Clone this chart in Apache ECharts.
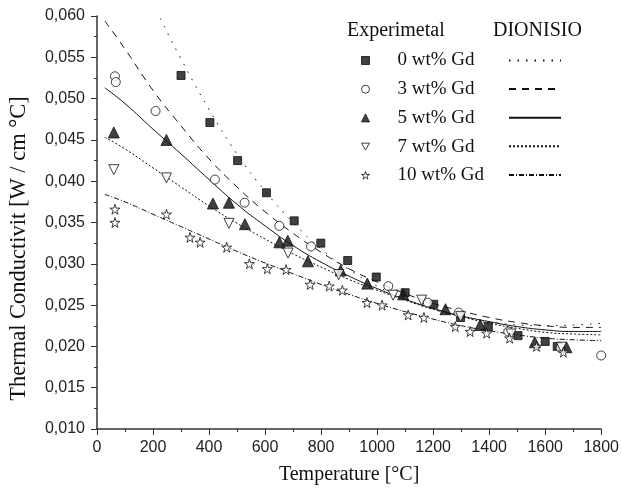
<!DOCTYPE html>
<html><head><meta charset="utf-8">
<script src="https://cdn.jsdelivr.net/npm/echarts@6/dist/echarts.min.js"></script>
<style>html,body{margin:0;padding:0;background:#fff}#c{width:622px;height:490px}</style>
</head><body><div id="c"></div>
<script>
// Experimental data [T, k]
const gd0 = [[300,0.0528],[403,0.0471],[502,0.0425],[605,0.0386],[704,0.0352],[799,0.0325],[895,0.0304],[997,0.0284],[1100,0.0265],[1202,0.0251],[1298,0.0235],[1397,0.0224],[1503,0.0213],[1600,0.0206],[1643,0.0200]];
const gd3 = [[64,0.0527],[67,0.0520],[209,0.0485],[421,0.0402],[527,0.0374],[651,0.0346],[764,0.0321],[1040,0.0273],[1181,0.0253],[1291,0.0241],[1468,0.0218],[1655,0.0198],[1800,0.0189]];
const gd5 = [[60,0.0459],[248,0.0450],[414,0.0373],[471,0.0374],[528,0.0348],[651,0.0326],[681,0.0328],[753,0.0303],[870,0.0292],[965,0.0276],[1093,0.0263],[1244,0.0245],[1368,0.0226],[1563,0.0205],[1676,0.0199]];
const gd7 = [[60,0.0414],[248,0.0404],[471,0.0349],[682,0.0313],[863,0.0287],[1057,0.0262],[1159,0.0256],[1298,0.0236],[1478,0.0215],[1658,0.0199]];
const gd10 = [[64,0.0366],[64,0.0350],[248,0.0360],[332,0.0332],[368,0.0326],[463,0.0320],[544,0.0300],[608,0.0294],[675,0.0293],[761,0.0275],[829,0.0273],[876,0.0268],[964,0.0253],[1018,0.0250],[1111,0.0238],[1167,0.0235],[1279,0.0224],[1332,0.0218],[1391,0.0216],[1473,0.0210],[1569,0.0200],[1665,0.0193]];
// DIONISIO model curves [T, k]
const fit0 = [[226,0.0597],[300,0.0548],[400,0.0487],[500,0.0433],[600,0.0388],[700,0.0350],[800,0.0318],[900,0.0293],[1000,0.0273],[1100,0.0257],[1200,0.0245],[1300,0.0236],[1400,0.0230],[1500,0.0226],[1600,0.0225],[1700,0.0226],[1800,0.0228]];
const fit3 = [[28,0.0594],[100,0.0560],[200,0.0510],[300,0.0467],[400,0.0427],[500,0.0393],[600,0.0363],[700,0.0337],[800,0.0314],[900,0.0294],[1000,0.0278],[1100,0.0264],[1200,0.0252],[1300,0.0243],[1400,0.0235],[1500,0.0229],[1600,0.0225],[1700,0.0223],[1800,0.0223]];
const fit5 = [[28,0.0513],[100,0.0494],[200,0.0463],[300,0.0433],[400,0.0402],[500,0.0372],[600,0.0346],[700,0.0322],[800,0.0302],[900,0.0285],[1000,0.0270],[1100,0.0257],[1200,0.0246],[1300,0.0237],[1400,0.0230],[1500,0.0224],[1600,0.0220],[1700,0.0218],[1800,0.0218]];
const fit7 = [[28,0.0453],[100,0.0439],[200,0.0416],[300,0.0393],[400,0.0370],[500,0.0349],[600,0.0330],[700,0.0312],[800,0.0296],[900,0.0281],[1000,0.0268],[1100,0.0256],[1200,0.0245],[1300,0.0236],[1400,0.0228],[1500,0.0222],[1600,0.0217],[1700,0.0215],[1800,0.0214]];
const fit10 = [[28,0.0384],[100,0.0375],[200,0.0360],[300,0.0345],[400,0.0330],[500,0.0315],[600,0.0301],[700,0.0288],[800,0.0275],[900,0.0263],[1000,0.0252],[1100,0.0242],[1200,0.0233],[1300,0.0225],[1400,0.0219],[1500,0.0214],[1600,0.0210],[1700,0.0208],[1800,0.0207]];
const names = ['0 wt% Gd','3 wt% Gd','5 wt% Gd','7 wt% Gd','10 wt% Gd'];
const fitNames = ['D0','D3','D5','D7','D10'];

const star = 'path://M50,0 L61,35 L98,35 L68,57 L79,91 L50,70 L21,91 L32,57 L2,35 L39,35 Z';
const down = 'path://M0,0 L100,0 L50,87 Z';
const serif = 'Liberation Serif';
const sans = 'Liberation Sans';
const fill = {color:'#111', borderColor:'#111', borderWidth:1};
const open = {color:'#fff', borderColor:'#111', borderWidth:1};
const scat = [
  {d:gd0, sym:'rect', size:8, st:fill},
  {d:gd3, sym:'circle', size:9, st:open},
  {d:gd5, sym:'triangle', size:11, st:fill},
  {d:gd7, sym:down, size:10, st:open},
  {d:gd10, sym:star, size:10, st:open}
];
const fits = [
  {d:fit0, type:[1.5,7]},
  {d:fit3, type:[7,6]},
  {d:fit5, type:'solid'},
  {d:fit7, type:[2,2]},
  {d:fit10, type:[5,2,1,2]}
];
const series = [];
fits.forEach((f,i)=>series.push({name:fitNames[i], type:'line', data:f.d, smooth:true, symbol:'none',
  itemStyle:{color:'#111'}, lineStyle:{color:'#111', width:1, type:f.type}, z:2}));
scat.forEach((s,i)=>series.push({name:names[i], type:'scatter', data:s.d, symbol:s.sym, symbolSize:s.size,
  itemStyle:s.st, z:3}));

const chart = echarts.init(document.getElementById('c'), null, {renderer:'canvas'});
chart.setOption({
  animation:false,
  backgroundColor:'#fff',
  grid:{left:94, right:19, top:16, bottom:60},
  legend:[
    {data:names.map((n,i)=>({name:n, icon:scat[i].sym, itemStyle:scat[i].st})), orient:'vertical', left:356, top:46,
     itemWidth:8, itemHeight:8, itemGap:9.7, textStyle:{fontFamily:serif, fontSize:19, color:'#111', padding:[0,0,0,23]}, selectedMode:false},
    {data:fitNames, orient:'vertical', left:503, top:46, itemWidth:52, itemHeight:19, itemGap:11.5,
     itemStyle:{opacity:0}, lineStyle:{color:'#111'},
     formatter:()=>'', textStyle:{fontFamily:serif, fontSize:19}, selectedMode:false}
  ],
  graphic:[
    {type:'text', left:347, top:21, style:{text:'Experimetal', font:'20px "Liberation Serif"', fill:'#111'}},
    {type:'text', left:493, top:21, style:{text:'DIONISIO', font:'20px "Liberation Serif"', fill:'#111'}}
  ],
  xAxis:{type:'value', min:0, max:1800, interval:200,
    name:'Temperature [°C]', nameLocation:'middle', nameGap:36,
    nameTextStyle:{fontFamily:serif, fontSize:20, color:'#111'},
    axisLine:{lineStyle:{color:'#333', width:1.5}},
    axisTick:{show:true, length:6, lineStyle:{color:'#333'}},
    minorTick:{show:true, splitNumber:2, length:3, lineStyle:{color:'#333'}},
    splitLine:{show:false},
    axisLabel:{fontFamily:sans, fontSize:16, color:'#222', margin:11, formatter:v=>String(v)}},
  yAxis:{type:'value', min:0.010, max:0.060, interval:0.005,
    name:'Thermal Conductivit [W / cm °C]', nameLocation:'middle', nameGap:66,
    nameTextStyle:{fontFamily:serif, fontSize:22.5, color:'#111', padding:[0,52,0,0]},
    axisLine:{show:true, lineStyle:{color:'#333', width:1.5}},
    axisTick:{show:true, length:6, lineStyle:{color:'#333'}},
    minorTick:{show:true, splitNumber:2, length:3, lineStyle:{color:'#333'}},
    splitLine:{show:false},
    axisLabel:{fontFamily:sans, fontSize:16, color:'#222', margin:12,
      formatter:v=>v.toFixed(3).replace('.',',')}},
  series:series
});
</script></body></html>
